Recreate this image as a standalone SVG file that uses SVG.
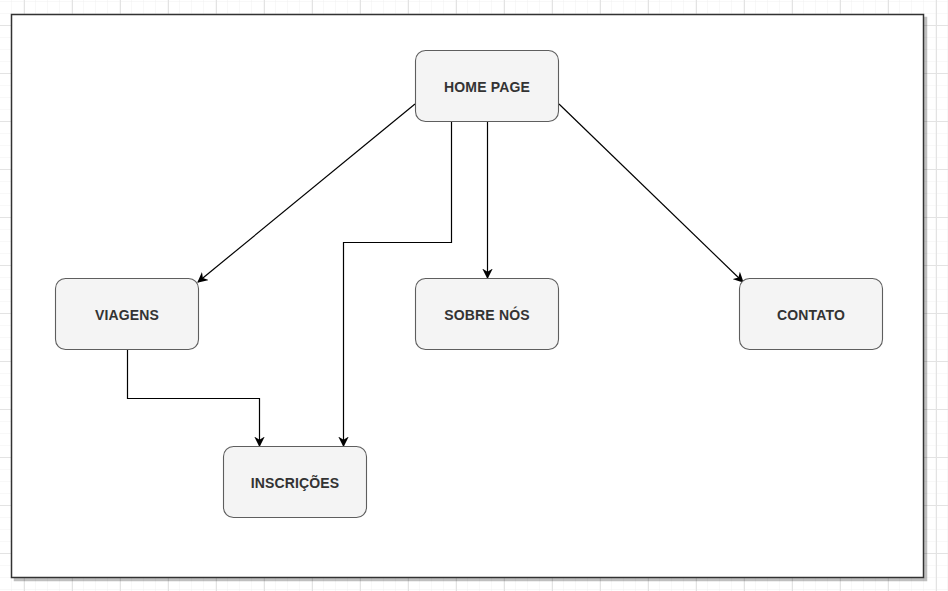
<svg xmlns="http://www.w3.org/2000/svg" width="948" height="591" viewBox="0 0 948 591">
  <defs>
    <pattern id="minor" width="12" height="12" patternUnits="userSpaceOnUse" x="0" y="1">
      <path d="M12 0 V12 M0 12 H12" fill="none" stroke="#f0f0f0" stroke-width="1"/>
    </pattern>
    <pattern id="major" width="48" height="48" patternUnits="userSpaceOnUse" x="0" y="1">
      <rect width="48" height="48" fill="url(#minor)"/>
      <path d="M24.5 0 V48 M0 24.5 H48" fill="none" stroke="#e3e3e3" stroke-width="1"/>
    </pattern>
    <marker id="arrow" viewBox="0 0 10 10" refX="9" refY="5" markerWidth="10.5" markerHeight="10.5" markerUnits="userSpaceOnUse" orient="auto">
      <path d="M0,0 L10,5 L0,10 L3,5 z" fill="#000"/>
    </marker>
    <filter id="shadow" x="-5%" y="-5%" width="110%" height="110%">
      <feOffset dx="3" dy="3" in="SourceAlpha" result="off"/>
      <feFlood flood-color="#000" flood-opacity="0.25"/>
      <feComposite in2="off" operator="in" result="sh"/>
      <feMerge><feMergeNode in="sh"/><feMergeNode in="SourceGraphic"/></feMerge>
    </filter>
  </defs>
  <style>
    .node rect { fill: #f4f4f4; stroke: #5e5e5e; stroke-width: 1.1; }
    .node text { font-family: "Liberation Sans", Arial, sans-serif; font-weight: bold; font-size: 14px; letter-spacing: 0.15px; fill: #333333; text-anchor: middle; dominant-baseline: central; }
    .edge { fill: none; stroke: #000; stroke-width: 1.2; marker-end: url(#arrow); }
  </style>

  <!-- canvas grid -->
  <rect width="948" height="591" fill="#ffffff"/>
  <rect width="948" height="591" fill="url(#major)"/>

  <!-- page frame -->
  <rect x="11.5" y="14.5" width="912" height="563" fill="#ffffff" stroke="#333333" stroke-width="1.5" filter="url(#shadow)"/>

  <!-- connectors -->
  <g id="connectors">
    <path class="edge" d="M415 104 L198 282"/>
    <path class="edge" d="M451.5 122 V242.5 H343.5 V446"/>
    <path class="edge" d="M487.5 122 V278"/>
    <path class="edge" d="M559 104 L743 282"/>
    <path class="edge" d="M127.5 350 V398.5 H259.5 V446"/>
  </g>

  <!-- nodes -->
  <g id="home-page" class="node">
    <rect x="415.5" y="50.5" width="143" height="71" rx="10"/>
    <text x="487" y="87">HOME PAGE</text>
  </g>
  <g id="viagens" class="node">
    <rect x="55.5" y="278.5" width="143" height="71" rx="10"/>
    <text x="127" y="315">VIAGENS</text>
  </g>
  <g id="sobre-nos" class="node">
    <rect x="415.5" y="278.5" width="143" height="71" rx="10"/>
    <text x="487" y="315">SOBRE NÓS</text>
  </g>
  <g id="contato" class="node">
    <rect x="739.5" y="278.5" width="143" height="71" rx="10"/>
    <text x="811" y="315">CONTATO</text>
  </g>
  <g id="inscricoes" class="node">
    <rect x="223.5" y="446.5" width="143" height="71" rx="10"/>
    <text x="295" y="483">INSCRIÇÕES</text>
  </g>
</svg>
